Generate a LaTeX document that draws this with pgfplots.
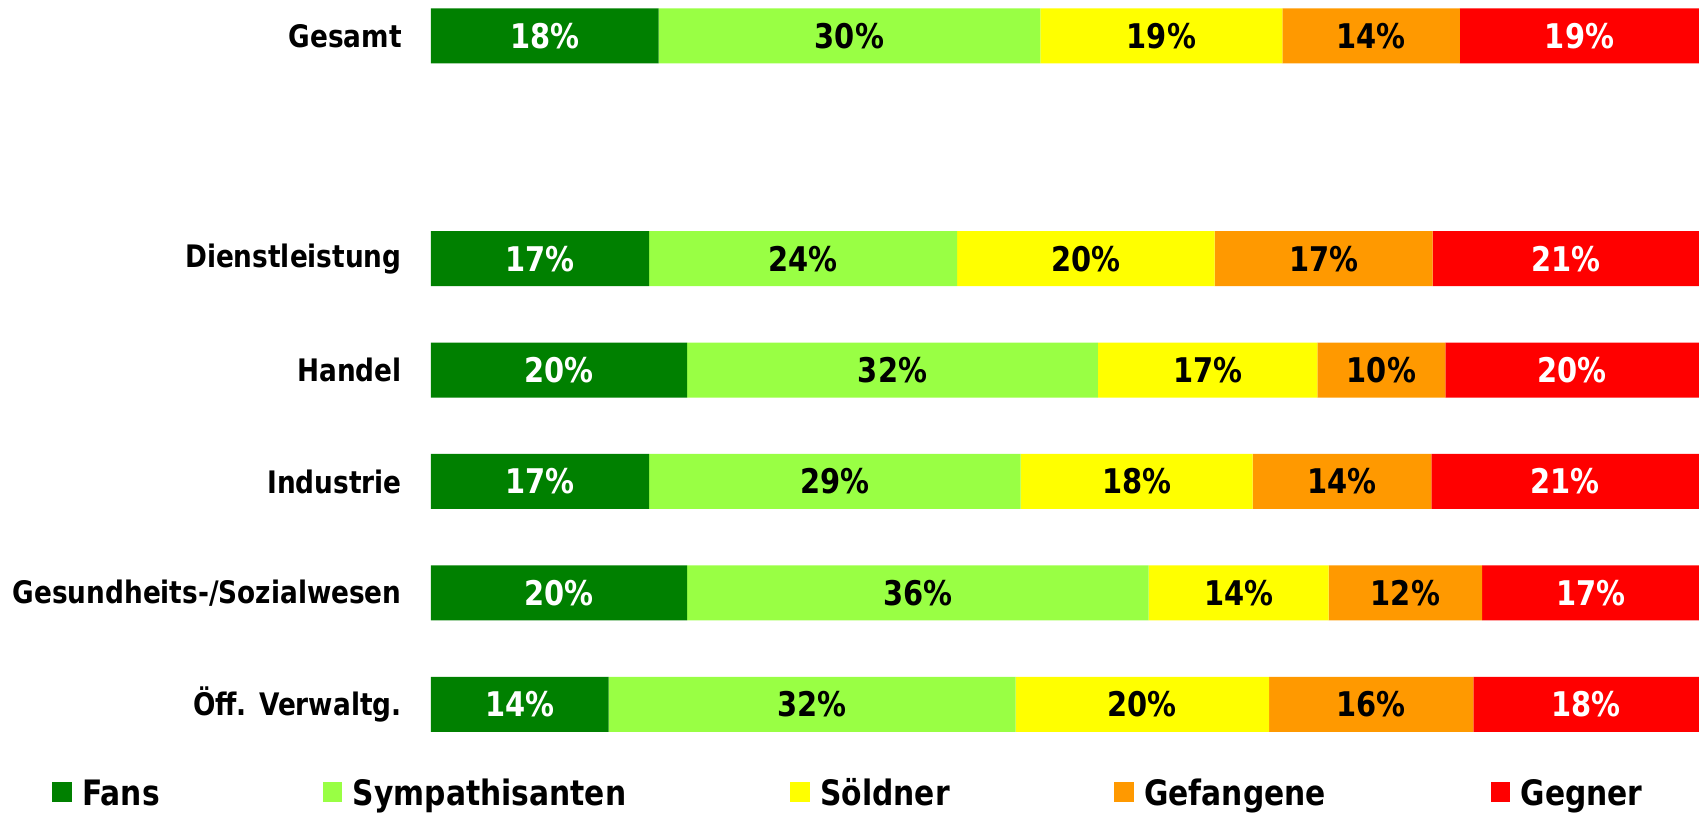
\documentclass[border=0pt]{standalone}
\usepackage{pgfplots}
\pgfplotsset{compat=1.18}
\usepackage{pgfplotstable}
\usepackage{fontspec}
\setmainfont{DejaVu Sans}[FakeStretch=0.85]
\definecolor{cF}{HTML}{008000}
\definecolor{cS}{HTML}{99FF44}
\definecolor{cY}{HTML}{FFFF00}
\definecolor{cO}{HTML}{FF9900}
\definecolor{cR}{HTML}{FF0000}

\pgfplotstableread{
y f lf s ls so lso ge lge gg lgg
6 17.95 18 30.1 30 19.1 19 14.0 14 18.85 19
4 17.2 17 24.3 24 20.3 20 17.2 17 21.0 21
3 20.2 20 32.4 32 17.3 17 10.1 10 20.0 20
2 17.2 17 29.3 29 18.3 18 14.1 14 21.1 21
1 20.2 20 36.4 36 14.2 14 12.1 12 17.1 17
0 14.0 14 32.1 32 20.0 20 16.1 16 17.8 18
}\data

\begin{document}
\begin{tikzpicture}
\path[use as bounding box] (0,0) rectangle (849.5pt,-406.5pt);
\begin{axis}[
  at={(215.5pt,-3.98pt)}, anchor=north west,
  width=634pt, height=362.1pt, scale only axis,
  xbar stacked, bar width=27.5pt,
  xmin=0, xmax=100, ymin=-0.25, ymax=6.25,
  hide x axis, axis y line*=left, y axis line style={draw=none},
  ytick={0,1,2,3,4,6},
  yticklabels={Öff. Verwaltg., Gesundheits-/Sozialwesen, Industrie, Handel, Dienstleistung, Gesamt},
  ytick style={draw=none}, major tick length=0pt,
  yticklabel style={font=\bfseries\fontsize{15.5}{18}\selectfont, inner sep=0pt, xshift=-14.5pt},
  point meta=explicit symbolic,
  nodes near coords={\pgfplotspointmeta\%},
  every node near coord/.append style={anchor=center, inner sep=0pt,
     font=\bfseries\fontsize{17}{20}\selectfont},
  legend image code/.code={\fill[#1,draw=none] (0pt,-5pt) rectangle (9.7pt,4.7pt);},
  legend columns=5, legend cell align=left,
  legend style={draw=none, fill=none, at={(0,0)}, anchor=north west,
     xshift=-189.35pt, yshift=-21.57pt, inner sep=0pt, outer sep=0pt,
     nodes={inner sep=0pt, outer sep=0pt, font=\bfseries\fontsize{17.5}{20}\selectfont},
     /tikz/every odd column/.style={column sep=5.3pt},
     /tikz/every even column/.style={column sep=0pt}},
]
\addplot[fill=cF, draw=none,
  every node near coord/.append style={text=white}] table[x=f, y=y, meta=lf] {\data};
\addlegendentry{\makebox[120.3pt][l]{\rule[-5pt]{0pt}{20pt}Fans}}
\addplot[fill=cS, draw=none,
  every node near coord/.append style={text=black}] table[x=s, y=y, meta=ls] {\data};
\addlegendentry{\makebox[218.7pt][l]{\rule[-5pt]{0pt}{20pt}Sympathisanten}}
\addplot[fill=cY, draw=none,
  every node near coord/.append style={text=black}] table[x=so, y=y, meta=lso] {\data};
\addlegendentry{\makebox[147pt][l]{\rule[-5pt]{0pt}{20pt}Söldner}}
\addplot[fill=cO, draw=none,
  every node near coord/.append style={text=black}] table[x=ge, y=y, meta=lge] {\data};
\addlegendentry{\makebox[173.15pt][l]{\rule[-5pt]{0pt}{20pt}Gefangene}}
\addplot[fill=cR, draw=none,
  every node near coord/.append style={text=white}] table[x=gg, y=y, meta=lgg] {\data};
\addlegendentry{\rule[-5pt]{0pt}{20pt}Gegner}
\end{axis}
\end{tikzpicture}
\end{document}
